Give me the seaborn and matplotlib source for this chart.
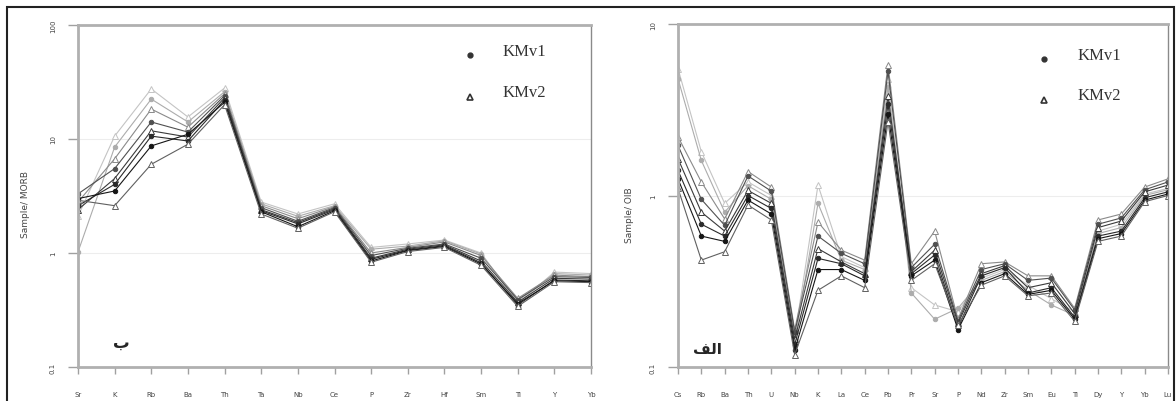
import numpy as np
import pandas as pd
import matplotlib
matplotlib.use("Agg")
import matplotlib.pyplot as plt
import seaborn as sns
from matplotlib.patches import Rectangle
from matplotlib.ticker import NullLocator

sns.set_style("white")

# MORB normalised spider diagram (panel "b")
morb_elements = ["Sr", "K", "Rb", "Ba", "Th", "Ta", "Nb", "Ce", "P", "Zr", "Hf", "Sm", "Ti", "Y", "Yb"]
morb_1 = [2.1, 10.6, 27.5, 15.6, 28, 2.8, 2.2, 2.7, 1.12, 1.2, 1.3, 1.0, 0.36, 0.68, 0.66]
morb_2 = [1.02, 8.5, 22.4, 14.1, 26, 2.7, 2.1, 2.6, 1.08, 1.15, 1.28, 0.98, 0.38, 0.66, 0.64]
morb_3 = [2.8, 6.7, 18.3, 12.7, 25, 2.6, 2.0, 2.55, 1.0, 1.12, 1.25, 0.95, 0.40, 0.64, 0.62]
morb_4 = [3.3, 5.5, 14.1, 11.5, 24, 2.5, 1.9, 2.5, 0.95, 1.1, 1.2, 0.9, 0.39, 0.62, 0.61]
morb_5 = [2.4, 4.5, 11.8, 10.4, 23, 2.4, 1.85, 2.45, 0.9, 1.08, 1.18, 0.85, 0.37, 0.60, 0.59]
morb_6 = [2.6, 4.0, 10.6, 9.6, 22, 2.35, 1.8, 2.4, 0.88, 1.06, 1.16, 0.82, 0.35, 0.58, 0.57]
morb_7 = [3.0, 3.5, 8.7, 11.0, 21, 2.3, 1.7, 2.35, 0.85, 1.05, 1.14, 0.80, 0.36, 0.57, 0.56]
morb_8 = [2.9, 2.6, 6.0, 9.0, 20, 2.2, 1.65, 2.3, 0.83, 1.03, 1.12, 0.78, 0.34, 0.56, 0.55]

# OIB normalised spider diagram (panel "alef")
oib_elements = ["Cs", "Rb", "Ba", "Th", "U", "Nb", "K", "La", "Ce", "Pb", "Pr", "Sr",
                "P", "Nd", "Zr", "Sm", "Eu", "Ti", "Dy", "Y", "Yb", "Lu"]
oib_1 = [5.5, 1.8, 0.9, 1.2, 1.0, 0.15, 1.15, 0.44, 0.38, 4.8, 0.29, 0.23, 0.21, 0.33, 0.37, 0.30, 0.25, 0.21, 0.62, 0.68, 1.02, 1.10]
oib_2 = [4.8, 1.6, 0.8, 1.14, 0.95, 0.14, 0.9, 0.42, 0.37, 4.3, 0.27, 0.19, 0.22, 0.32, 0.36, 0.28, 0.23, 0.20, 0.60, 0.65, 1.00, 1.08]
oib_3 = [2.2, 1.2, 0.73, 1.38, 1.12, 0.165, 0.7, 0.48, 0.42, 5.8, 0.40, 0.62, 0.19, 0.40, 0.41, 0.34, 0.34, 0.22, 0.72, 0.78, 1.12, 1.25]
oib_4 = [1.96, 0.95, 0.67, 1.3, 1.06, 0.16, 0.58, 0.46, 0.40, 5.3, 0.38, 0.52, 0.185, 0.37, 0.40, 0.32, 0.33, 0.215, 0.68, 0.74, 1.08, 1.20]
oib_5 = [1.64, 0.8, 0.62, 1.07, 0.9, 0.145, 0.49, 0.41, 0.35, 3.8, 0.36, 0.48, 0.18, 0.35, 0.39, 0.29, 0.31, 0.205, 0.65, 0.71, 1.05, 1.15]
oib_6 = [1.4, 0.68, 0.58, 1.0, 0.84, 0.135, 0.43, 0.40, 0.34, 3.4, 0.35, 0.45, 0.17, 0.34, 0.38, 0.27, 0.29, 0.195, 0.58, 0.62, 0.97, 1.05]
oib_7 = [1.25, 0.58, 0.54, 0.94, 0.78, 0.125, 0.37, 0.37, 0.32, 3.0, 0.34, 0.42, 0.165, 0.31, 0.35, 0.265, 0.28, 0.19, 0.56, 0.60, 0.94, 1.02]
oib_8 = [1.1, 0.42, 0.47, 0.88, 0.72, 0.118, 0.28, 0.34, 0.29, 2.7, 0.32, 0.40, 0.175, 0.30, 0.34, 0.26, 0.27, 0.185, 0.54, 0.58, 0.92, 1.00]

sample_groups = ["KMv2", "KMv1", "KMv2", "KMv1", "KMv2", "KMv1", "KMv1", "KMv2"]
line_colors = ["#c4c4c4", "#acacac", "#8a8a8a", "#505050", "#3a3a3a", "#2a2a2a", "#151515", "#606060"]

fig = plt.figure(figsize=(11.76, 4.02), dpi=100)


def spider(ax, elements, series):
    rows = []
    for i, vals in enumerate(series):
        for j, v in enumerate(vals):
            rows.append({"sample": i, "pos": j, "value": v})
    df = pd.DataFrame(rows)
    for i in range(len(series)):
        c = line_colors[i]
        circle = sample_groups[i] == "KMv1"
        sns.lineplot(data=df[df["sample"] == i], x="pos", y="value", ax=ax,
                     color=c, lw=0.8, marker="o" if circle else "^",
                     ms=3.2 if circle else 4.0, mfc=c if circle else "white",
                     mec=c, mew=0.7, legend=False)
    ax.set_yscale("log")
    ax.set_xlim(0, len(elements) - 1)
    ax.set_xticks(range(len(elements)))
    ax.set_xticklabels(elements)
    ax.yaxis.set_minor_locator(NullLocator())
    ax.set_xlabel("")
    ax.set_ylabel("")
    ax.yaxis.grid(True, color="#ededed", lw=0.8)
    ax.set_axisbelow(True)
    for s in ["left", "bottom", "top"]:
        ax.spines[s].set_color("#b0b0b0")
        ax.spines[s].set_linewidth(2)
    ax.spines["right"].set_color("#8a8a8a")
    ax.spines["right"].set_linewidth(1)
    ax.tick_params(axis="x", length=5, width=1, color="#a0a0a0", pad=12,
                   labelsize=5, labelcolor="#444444", direction="out", bottom=True)
    ax.tick_params(axis="y", length=7, width=1, color="#a0a0a0", pad=9,
                   labelsize=5, labelcolor="#444444", labelrotation=90, direction="out", left=True)
    for lab in ax.get_yticklabels():
        lab.set_va("center")


def key(ax, x_m, x_t, y1, y2):
    ax.plot([x_m], [y1], marker="o", ms=3.5, color="#333333", transform=ax.transAxes, clip_on=False)
    ax.plot([x_m], [y2], marker="^", ms=5, mfc="white", mec="#333333", mew=1.2,
            transform=ax.transAxes, clip_on=False)
    ax.text(x_t, y1 + 0.012, "KMv1", transform=ax.transAxes, family="Liberation Serif",
            fontsize=12, color="#333333", va="center")
    ax.text(x_t, y2 + 0.015, "KMv2", transform=ax.transAxes, family="Liberation Serif",
            fontsize=12, color="#333333", va="center")


ax1 = fig.add_axes([78 / 1176, 1 - 368 / 402, 513 / 1176, 342 / 402])
spider(ax1, morb_elements, [morb_1, morb_2, morb_3, morb_4, morb_5, morb_6, morb_7, morb_8])
ax1.set_ylim(0.1, 100)
ax1.set_yticks([0.1, 1, 10, 100])
ax1.set_yticklabels(["0.1", "1", "10", "100"])
key(ax1, 0.764, 0.828, 0.912, 0.789)
ax1.text(0.084, 0.075, "\u0628", transform=ax1.transAxes, fontsize=12,
         fontweight="bold", family="DejaVu Sans", ha="center", va="center")

ax2 = fig.add_axes([678 / 1176, 1 - 368 / 402, 490 / 1176, 343 / 402])
spider(ax2, oib_elements, [oib_1, oib_2, oib_3, oib_4, oib_5, oib_6, oib_7, oib_8])
ax2.set_ylim(0.1, 10)
ax2.set_yticks([0.1, 1, 10])
ax2.set_yticklabels(["0.1", "1", "10"])
key(ax2, 0.747, 0.816, 0.898, 0.778)
# "الف" written with Arabic presentation forms in visual order (no bidi shaping in matplotlib)
ax2.text(0.061, 0.055, "\uFED2\uFEDF\uFE8D", transform=ax2.transAxes, fontsize=11,
         fontweight="bold", family="DejaVu Sans", ha="center", va="center")

fig.text(25 / 1176, 1 - 205 / 402, "Sample/ MORB", rotation=90, fontsize=6.5,
         color="#444444", ha="center", va="center")
fig.text(630 / 1176, 1 - 215 / 402, "Sample/ OIB", rotation=90, fontsize=6.5,
         color="#444444", ha="center", va="center")

# outer frame
fig.add_artist(Rectangle((7 / 1176, -0.05), 1167 / 1176, 1.05 - 8 / 402,
                         transform=fig.transFigure, fill=False, ec="#222222", lw=1.5))

fig.savefig("out.png", dpi=100)
